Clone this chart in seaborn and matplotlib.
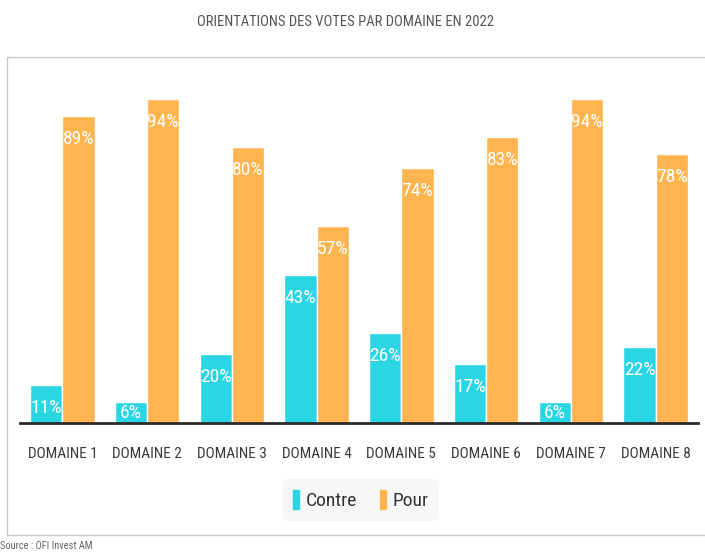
import pandas as pd
import matplotlib.pyplot as plt
import seaborn as sns
from matplotlib.patches import Rectangle

# Data
domaines = ['DOMAINE 1', 'DOMAINE 2', 'DOMAINE 3', 'DOMAINE 4',
            'DOMAINE 5', 'DOMAINE 6', 'DOMAINE 7', 'DOMAINE 8']
contre = [11, 6, 20, 43, 26, 17, 6, 22]
pour = [89, 94, 80, 57, 74, 83, 94, 78]

df = pd.DataFrame({
    'domaine': domaines * 2,
    'vote': ['Contre'] * len(domaines) + ['Pour'] * len(domaines),
    'pct': contre + pour,
})

sns.set_style('white')
narrow = ['DejaVu Sans Condensed', 'Liberation Sans Narrow', 'Roboto Condensed',
          'Open Sans Condensed', 'Noto Sans Condensed']
plt.rcParams['font.family'] = narrow + ['DejaVu Sans']
plt.rcParams['font.stretch'] = 'condensed'

fig = plt.figure(figsize=(7.05, 5.53), dpi=100)
ax = fig.add_axes([20 / 705, 1 - 423 / 553, 678 / 705, 353 / 553])

palette = {'Contre': '#2ad5e4', 'Pour': '#ffb54f'}
sns.barplot(data=df, x='domaine', y='pct', hue='vote', palette=palette,
            width=0.76, gap=0, saturation=1, ax=ax, legend=False)

ax.set_ylim(0, 102.3)
ax.set_xlim(-0.5, len(domaines) - 0.5)
ax.set_yticks([])
ax.set_xlabel('')
ax.set_ylabel('')
for s in ['top', 'right', 'left']:
    ax.spines[s].set_visible(False)
ax.spines['bottom'].set_color('#2b2b2b')
ax.spines['bottom'].set_linewidth(2)
ax.tick_params(axis='x', length=0, pad=17, labelsize=11, labelcolor='#3a3a3a')

# value labels inside top of bars, kept above the baseline for short bars
px_per_unit = 353 / 102.3
for cont in ax.containers:
    for bar, v in zip(cont, cont.datavalues):
        h_px = v * px_per_unit
        off_px = max(min(14, h_px - 19), 1)
        ax.annotate(f'{v:.0f}%', (bar.get_x() + bar.get_width() / 2, v),
                    xytext=(0, -off_px * 0.72), textcoords='offset points',
                    ha='center', va='top', color='white', fontsize=14, zorder=5)

# legend
handles = [Rectangle((0, 0), 1, 1, color=palette[k]) for k in ['Contre', 'Pour']]
leg = fig.legend(handles, ['Contre', 'Pour'], loc='center', bbox_to_anchor=(361 / 705, 1 - 500 / 553),
                 ncol=2, frameon=True, fontsize=14, handlelength=0.28, handleheight=1.1,
                 handletextpad=0.35, columnspacing=1.2, borderpad=0.55)
leg.get_frame().set_facecolor('#f6f6f6')
leg.get_frame().set_edgecolor('none')
for t in leg.get_texts():
    t.set_color('#333333')

# outer frame
fig.patches.append(Rectangle((7 / 705, 1 - 535 / 553), 720 / 705, 478 / 553,
                             transform=fig.transFigure, fill=False,
                             edgecolor='#c8c8c8', linewidth=1))

fig.text(346 / 705, 1 - 22 / 553, 'ORIENTATIONS DES VOTES PAR DOMAINE EN 2022',
         ha='center', va='center', fontsize=10.5, color='#555555')
fig.text(0, 1 - 546 / 553, 'Source : OFI Invest AM', ha='left', va='center',
         fontsize=7.5, color='#666666')

fig.savefig('out.png', dpi=100, facecolor='white')
